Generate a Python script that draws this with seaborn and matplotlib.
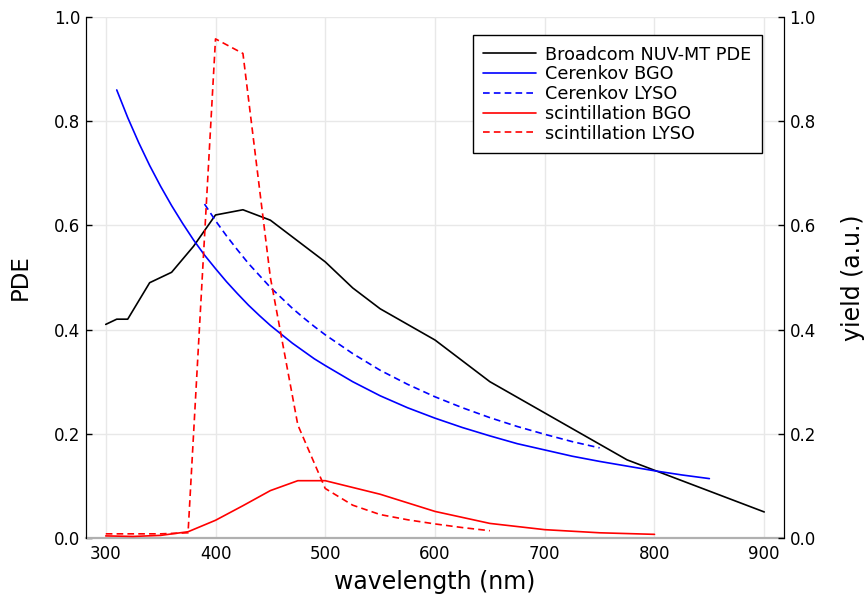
import matplotlib
matplotlib.use("Agg")
import matplotlib.pyplot as plt
import seaborn as sns
from matplotlib.lines import Line2D

# ---- data ----
wl_pde = [300, 310, 320, 340, 360, 380, 400, 425, 450, 475, 500, 525, 550, 600, 650, 700, 775, 800, 900]
pde = [0.41, 0.42, 0.42, 0.49, 0.51, 0.56, 0.62, 0.63, 0.61, 0.57, 0.53, 0.48, 0.44, 0.38, 0.30, 0.24, 0.15, 0.13, 0.05]

wl_cer_bgo = [310, 320, 330, 340, 350, 360, 370, 380, 390, 400, 410, 420, 430, 440, 450, 460, 470, 480, 490, 500,
              525, 550, 575, 600, 625, 650, 675, 700, 725, 750, 775, 800, 825, 850]
cer_bgo = [0.860, 0.807, 0.759, 0.715, 0.675, 0.638, 0.604, 0.572, 0.543, 0.517, 0.492, 0.469, 0.447, 0.427, 0.408,
           0.391, 0.374, 0.359, 0.344, 0.331,
           0.300, 0.273, 0.250, 0.230, 0.212, 0.196, 0.181, 0.169, 0.157, 0.147, 0.138, 0.129, 0.121, 0.114]

wl_cer_lyso = [390, 400, 410, 420, 430, 440, 450, 460, 470, 480, 490, 500, 525, 550, 575, 600, 625, 650, 675, 700, 725, 750]
cer_lyso = [0.641, 0.609, 0.580, 0.553, 0.527, 0.504, 0.481, 0.461, 0.441, 0.423, 0.406, 0.390,
            0.354, 0.322, 0.295, 0.271, 0.250, 0.231, 0.214, 0.199, 0.185, 0.173]

wl_sc_bgo = [300, 325, 350, 375, 400, 425, 450, 475, 500, 550, 600, 650, 700, 750, 800]
sc_bgo = [0.004, 0.003, 0.005, 0.012, 0.034, 0.062, 0.091, 0.110, 0.110, 0.084, 0.051, 0.028, 0.016, 0.010, 0.007]

wl_sc_lyso = [300, 325, 350, 375, 400, 425, 450, 475, 500, 525, 550, 575, 600, 625, 650]
sc_lyso = [0.008, 0.008, 0.008, 0.010, 0.958, 0.930, 0.500, 0.217, 0.095, 0.063, 0.045, 0.035, 0.027, 0.020, 0.014]

x_ticks = [300, 400, 500, 600, 700, 800, 900]
y_ticks = [0.0, 0.2, 0.4, 0.6, 0.8, 1.0]

labels = ["Broadcom NUV-MT PDE", "Cerenkov BGO", "Cerenkov LYSO", "scintillation BGO", "scintillation LYSO"]

sns.set_style("white")
plt.rcParams['font.family'] = ['DejaVu Sans']
plt.rcParams['text.color'] = 'black'
plt.rcParams['axes.labelcolor'] = 'black'

fig = plt.figure(figsize=(8.68, 5.96), dpi=100)
ax = fig.add_axes([86/868, 1-538/596, (784-86)/868, (538-17)/596])
ax2 = ax.twinx()

lw = 1.2
dash = (0, (4, 2.5))
sns.lineplot(x=wl_pde, y=pde, ax=ax, color="black", lw=lw, sort=False, estimator=None)
sns.lineplot(x=wl_cer_bgo, y=cer_bgo, ax=ax2, color="blue", lw=lw, sort=False, estimator=None)
sns.lineplot(x=wl_cer_lyso, y=cer_lyso, ax=ax2, color="blue", lw=lw, ls=dash, sort=False, estimator=None)
sns.lineplot(x=wl_sc_bgo, y=sc_bgo, ax=ax2, color="red", lw=lw, sort=False, estimator=None)
sns.lineplot(x=wl_sc_lyso, y=sc_lyso, ax=ax2, color="red", lw=lw, ls=dash, sort=False, estimator=None)

for a in (ax, ax2):
    a.set_xlim(282, 918)
    a.set_ylim(0, 1)
    a.set_yticks(y_ticks)
    a.set_yticklabels([f"{v:.1f}" for v in y_ticks])
    a.spines['top'].set_visible(False)
    a.tick_params(direction='in', length=4, width=1, labelsize=12, colors='black')
ax.set_xticks(x_ticks)
ax.set_xticklabels([str(v) for v in x_ticks])
ax.grid(True, color='#e8e8e8', lw=1)
ax.set_axisbelow(True)
for a in (ax, ax2):
    a.spines['left'].set_color('black')
    a.spines['right'].set_color('black')
ax.spines['bottom'].set_color('#b0b0b0')
ax.spines['bottom'].set_linewidth(1.6)
ax2.spines['bottom'].set_visible(False)
ax.tick_params(axis='x', pad=5)
ax.tick_params(axis='y', pad=4)
ax2.tick_params(axis='y', pad=4)

ax.set_xlabel("wavelength (nm)", fontsize=17, labelpad=5)
ax.set_ylabel("PDE", fontsize=16.5, labelpad=16)
ax2.set_ylabel("yield (a.u.)", fontsize=17, labelpad=18)

for a in (ax, ax2):
    if a.get_legend() is not None:
        a.get_legend().remove()

handles = [
    Line2D([], [], color="black", lw=lw),
    Line2D([], [], color="blue", lw=lw),
    Line2D([], [], color="blue", lw=lw, ls=dash),
    Line2D([], [], color="red", lw=lw),
    Line2D([], [], color="red", lw=lw, ls=dash),
]
leg = ax2.legend(handles, labels, loc='upper right', bbox_to_anchor=(762/868, 1-35/596),
                 bbox_transform=fig.transFigure, fontsize=12.7, frameon=True, fancybox=False,
                 edgecolor='black', framealpha=1, labelspacing=0.1, handlelength=3.0,
                 handletextpad=0.5, borderpad=0.6, borderaxespad=0)
leg.get_frame().set_linewidth(1.0)

fig.savefig("out.png", dpi=100)
